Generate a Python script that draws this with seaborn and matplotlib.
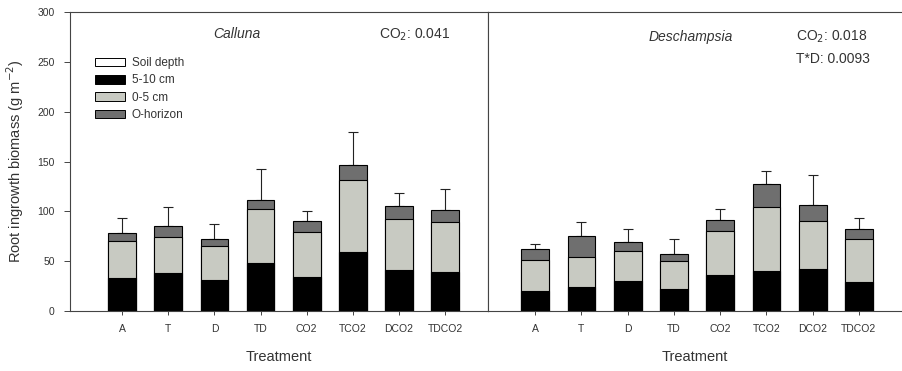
import numpy as np
import pandas as pd
import matplotlib
matplotlib.use("Agg")
import matplotlib.pyplot as plt
import seaborn as sns
from matplotlib.patches import Patch

sns.set_theme(style="ticks")
plt.rcParams['font.family'] = ['Liberation Sans', 'DejaVu Sans']
plt.rcParams['xtick.bottom'] = True
plt.rcParams['ytick.left'] = True

treatments = ["A", "T", "D", "TD", "CO2", "TCO2", "DCO2", "TDCO2"]

calluna_5_10 = [33, 38, 31, 48.5, 34, 59.5, 41, 39.5]
calluna_0_5 = [37, 36.5, 34, 54, 45, 72, 51.5, 49.5]
calluna_O = [8, 11, 7, 8.5, 11.5, 15, 13, 12]
calluna_err = [15, 19, 15, 31.5, 9.5, 33, 12.5, 21]

desch_5_10 = [20, 24, 30.5, 22, 36, 40, 42, 29]
desch_0_5 = [31, 30.5, 29.5, 28, 44, 64, 48, 43]
desch_O = [11, 21, 9, 7, 11, 23.5, 16, 10]
desch_err = [5, 14, 13, 15, 11, 12.5, 30, 11]

col_deep = "#000000"
col_mid = "#c8cac2"
col_O = "#6f6f6f"
txt = "#333333"

fig = plt.figure(figsize=(9.02, 3.71), dpi=100)
x0, xm, x1 = 70 / 902, 488 / 902, 901 / 902
b, t = 1 - 311 / 371, 1 - 12 / 371
axL = fig.add_axes([x0, b, xm - x0, t - b])
axR = fig.add_axes([xm, b, x1 - xm, t - b], sharey=axL)


def draw(ax, deep, mid, top, err):
    deep = np.array(deep, float)
    mid = np.array(mid, float)
    top = np.array(top, float)
    c1 = deep
    c2 = deep + mid
    c3 = deep + mid + top
    df = pd.DataFrame({"Treatment": treatments, "c1": c1, "c2": c2, "c3": c3})
    for col, fc in [("c3", col_O), ("c2", col_mid), ("c1", col_deep)]:
        sns.barplot(data=df, x="Treatment", y=col, color=fc, ax=ax,
                    width=0.6, edgecolor="black", linewidth=0.8,
                    saturation=1, errorbar=None)
    pos = np.arange(len(treatments))
    ax.errorbar(pos, c3, yerr=[np.zeros(len(err)), np.array(err, float)],
                fmt="none", ecolor="#222222", elinewidth=0.8, capsize=3.5,
                capthick=0.8, zorder=0.5)
    ax.set_ylim(0, 300)
    ax.set_ylabel("")
    ax.set_xlabel("Treatment", fontsize=10.5, color=txt, labelpad=12)
    ax.tick_params(axis="x", labelsize=7.5, labelcolor=txt, direction="out",
                   length=3, width=0.7, pad=6, bottom=True, color="#444444")
    for s in ax.spines.values():
        s.set_visible(True)
        s.set_color("#444444")
        s.set_linewidth(0.8)


draw(axL, calluna_5_10, calluna_0_5, calluna_O, calluna_err)
draw(axR, desch_5_10, desch_0_5, desch_O, desch_err)

axL.set_xlim(-1.13, 7.93)
axR.set_xlim(-1.02, 7.91)
axR.spines["right"].set_visible(False)
axR.tick_params(axis="y", left=False, labelleft=False)

axL.set_yticks([0, 50, 100, 150, 200, 250, 300])
axL.tick_params(axis="y", labelsize=7.5, labelcolor=txt, direction="out",
                length=4, width=0.7, left=True, pad=7, color="#444444")
axL.set_ylabel("Root ingrowth biomass (g m$^{-2}$)", fontsize=10.5,
               color=txt, labelpad=8)

axL.text(0.40, 0.925, "Calluna", transform=axL.transAxes, style="italic",
         fontsize=10, color=txt, ha="center", va="center")
axL.text(0.74, 0.925, "CO$_2$: 0.041", transform=axL.transAxes,
         fontsize=10, color=txt, ha="left", va="center")
axR.text(0.49, 0.918, "Deschampsia", transform=axR.transAxes, style="italic",
         fontsize=10, color=txt, ha="center", va="center")
axR.text(0.745, 0.918, "CO$_2$: 0.018", transform=axR.transAxes,
         fontsize=10, color=txt, ha="left", va="center")
axR.text(0.745, 0.842, "T*D: 0.0093", transform=axR.transAxes,
         fontsize=10, color=txt, ha="left", va="center")

handles = [Patch(facecolor="white", edgecolor="black", linewidth=0.7),
           Patch(facecolor=col_deep, edgecolor="black", linewidth=0.7),
           Patch(facecolor=col_mid, edgecolor="black", linewidth=0.7),
           Patch(facecolor=col_O, edgecolor="black", linewidth=0.7)]
labels = ["Soil depth", "5-10 cm", "0-5 cm", "O-horizon"]
axL.legend(handles, labels, loc="upper left", bbox_to_anchor=(0.048, 0.865),
           frameon=False, fontsize=8.5, handlelength=2.6, handleheight=0.75,
           handletextpad=0.55, labelspacing=0.45, borderaxespad=0,
           labelcolor=txt)

fig.savefig("out.png", dpi=100)
